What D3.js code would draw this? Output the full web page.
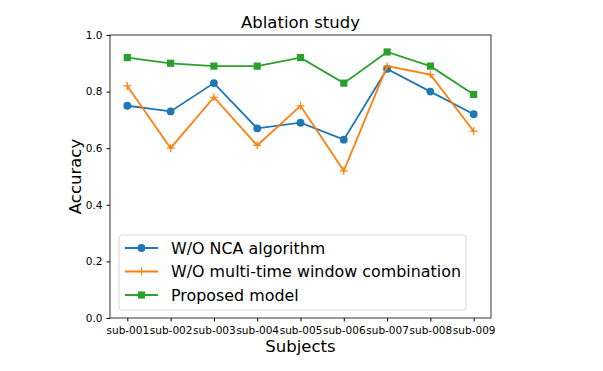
<!DOCTYPE html>
<html lang="en">
<head>
  <meta charset="UTF-8">
  <title>Ablation study</title>
  <script src="https://d3js.org/d3.v7.min.js"></script>
  <style>
    html, body { margin: 0; background: #fff; }
    body { font-family: "DejaVu Sans", sans-serif; }
    .tick text { font-family: "DejaVu Sans", sans-serif; font-size: 10.5px; fill: #000; }
    .tick line { stroke: #000; }
  </style>
</head>
<body>
  <div id="chart"></div>
  <script>
    const subjects = ["sub-001", "sub-002", "sub-003", "sub-004", "sub-005", "sub-006", "sub-007", "sub-008", "sub-009"];
    const ncaValues = [0.75, 0.73, 0.83, 0.67, 0.69, 0.63, 0.88, 0.80, 0.72];
    const multiValues = [0.82, 0.60, 0.78, 0.61, 0.75, 0.52, 0.89, 0.86, 0.66];
    const proposedValues = [0.92, 0.90, 0.89, 0.89, 0.92, 0.83, 0.94, 0.89, 0.79];
    const yTicks = [0.0, 0.2, 0.4, 0.6, 0.8, 1.0];

    const series = [
      { name: "W/O NCA algorithm", values: ncaValues, color: "#1f77b4", marker: "circle" },
      { name: "W/O multi-time window combination", values: multiValues, color: "#ff7f0e", marker: "plus" },
      { name: "Proposed model", values: proposedValues, color: "#2ca02c", marker: "square" }
    ];

    const W = 603, H = 371;
    const margin = { top: 35, right: 112, bottom: 53, left: 110 };
    const width = W - margin.left - margin.right;
    const height = H - margin.top - margin.bottom;

    const svg = d3.select("#chart").append("svg")
      .attr("width", W).attr("height", H);
    const g = svg.append("g").attr("transform", `translate(${margin.left},${margin.top})`);

    // matplotlib-like 5% padding on x
    const x = d3.scaleLinear().domain([-0.4, subjects.length - 1 + 0.4]).range([0, width]);
    const y = d3.scaleLinear().domain([0, 1]).range([height, 0]);

    g.append("g")
      .attr("transform", `translate(0,${height})`)
      .call(d3.axisBottom(x).tickValues(d3.range(subjects.length)).tickFormat(i => subjects[i]).tickSize(3.5).tickPadding(5))
      .call(a => a.select(".domain").remove());

    g.append("g")
      .call(d3.axisLeft(y).tickValues(yTicks).tickFormat(d3.format(".1f")).tickSize(3.5).tickPadding(4))
      .call(a => a.select(".domain").remove());

    g.append("rect")
      .attr("width", width).attr("height", height)
      .attr("fill", "none").attr("stroke", "#000").attr("stroke-width", 0.8);

    const line = d3.line().x((d, i) => x(i)).y(d => y(d));

    function drawMarker(sel, type, color) {
      if (type === "circle") {
        sel.append("circle").attr("r", 3.9).attr("fill", color);
      } else if (type === "square") {
        sel.append("rect").attr("x", -3.6).attr("y", -3.6).attr("width", 7.2).attr("height", 7.2).attr("fill", color);
      } else {
        sel.append("path").attr("d", "M-4,0H4M0,-4V4").attr("stroke", color).attr("stroke-width", 1.2);
      }
    }

    series.forEach(s => {
      g.append("path").datum(s.values)
        .attr("d", line).attr("fill", "none")
        .attr("stroke", s.color).attr("stroke-width", 1.8);
      s.values.forEach((v, i) => {
        const m = g.append("g").attr("transform", `translate(${x(i)},${y(v)})`);
        drawMarker(m, s.marker, s.color);
      });
    });

    // legend
    const leg = g.append("g").attr("transform", "translate(9,200)");
    leg.append("rect")
      .attr("width", 347).attr("height", 75).attr("rx", 3)
      .attr("fill", "#fff").attr("fill-opacity", 0.8)
      .attr("stroke", "#ccc").attr("stroke-width", 0.8);
    series.forEach((s, i) => {
      const row = leg.append("g").attr("transform", `translate(0,${13 + i * 23.5})`);
      row.append("line").attr("x1", 6).attr("x2", 39)
        .attr("stroke", s.color).attr("stroke-width", 1.8);
      const m = row.append("g").attr("transform", "translate(22.5,0)");
      drawMarker(m, s.marker, s.color);
      row.append("text").attr("x", 52).attr("dy", "0.35em")
        .style("font-size", "15.9px").text(s.name);
    });

    svg.append("text")
      .attr("x", margin.left + width / 2).attr("y", 28)
      .attr("text-anchor", "middle").style("font-size", "16.5px")
      .text("Ablation study");

    svg.append("text")
      .attr("x", margin.left + width / 2).attr("y", 352)
      .attr("text-anchor", "middle").style("font-size", "16.5px")
      .text("Subjects");

    svg.append("text")
      .attr("transform", `translate(81,${margin.top + height / 2}) rotate(-90)`)
      .attr("text-anchor", "middle").style("font-size", "16.5px")
      .text("Accuracy");
  </script>
</body>
</html>
